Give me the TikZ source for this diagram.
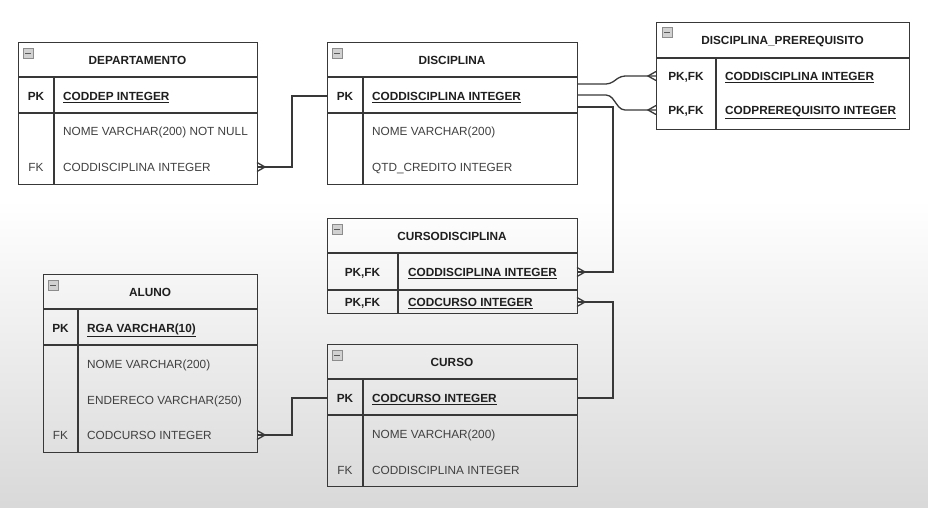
\documentclass[tikz,border=0pt]{standalone}
\usepackage{fontspec}
\setmainfont{Liberation Sans}
\usetikzlibrary{calc}
\tikzset{
  x=1pt, y=-1pt,
  tblbox/.style={draw=black!78, line width=1.3pt, inner sep=0pt, anchor=north west},
  tline/.style={draw=black!78, line width=1.3pt},
  txt/.style={inner sep=0pt, text height=8.4pt, text depth=0pt, font=\fontsize{11.8}{13}\selectfont},
  fld/.style={txt, anchor=west, text=black!75},
  pkf/.style={txt, anchor=west, text=black!88, font=\fontsize{11.8}{13}\selectfont\bfseries},
  keyb/.style={txt, anchor=center, text=black!88, font=\fontsize{11.8}{13}\selectfont\bfseries},
  keyn/.style={txt, anchor=center, text=black!75},
  ttl/.style={txt, anchor=center, text=black!88, font=\fontsize{11.8}{13}\selectfont\bfseries},
  icon/.style={draw=black!45, fill=black!18, line width=0.6pt, minimum size=10pt, inner sep=0pt, anchor=north west,
    path picture={\draw[black!65, line width=0.9pt] ([xshift=2pt]path picture bounding box.west) -- ([xshift=-2pt]path picture bounding box.east);}},
  conn/.style={draw=black!78, line width=1.3pt},
}
\newcommand\crowR[1]{\draw[conn] ($(#1)+(0,-4.5)$) -- ($(#1)+(8,0)$) -- ($(#1)+(0,4.5)$);}
\newcommand\crowL[1]{\draw[conn] ($(#1)+(0,-4.5)$) -- ($(#1)+(-8,0)$) -- ($(#1)+(0,4.5)$);}
\begin{document}
\begin{tikzpicture}
\useasboundingbox (0,0) rectangle (928,507);
\fill[white] (0,0) rectangle (928,201);
\shade[top color=white, bottom color=black!15] (0,200) rectangle (928,507);

% ---------------- DEPARTAMENTO
\node[tblbox, minimum width=239pt, minimum height=142pt] (dep) at (18,42) {};
\draw[tline] (18,77) -- (257,77);
\draw[tline] (18,113) -- (257,113);
\draw[tline] (54,77) -- (54,184);
\node[icon] (depic) at (23,48) {};
\node[ttl] (dept) at (137.5,60) {DEPARTAMENTO};
\node[keyb] (depk1) at (36,96) {PK};
\node[pkf] (depf1) at (63,96) {\underline{CODDEP INTEGER}};
\node[fld] (depf2) at (63,131) {NOME VARCHAR(200) NOT NULL};
\node[keyn] (depk3) at (36,167) {FK};
\node[fld] (depf3) at (63,167) {CODDISCIPLINA INTEGER};

% ---------------- DISCIPLINA
\node[tblbox, minimum width=250pt, minimum height=142pt] (disc) at (327,42) {};
\draw[tline] (327,77) -- (577,77);
\draw[tline] (327,113) -- (577,113);
\draw[tline] (363,77) -- (363,184);
\node[icon] (discic) at (332,48) {};
\node[ttl] (disct) at (452,60) {DISCIPLINA};
\node[keyb] (disck1) at (345,96) {PK};
\node[pkf] (discf1) at (372,96) {\underline{CODDISCIPLINA INTEGER}};
\node[fld] (discf2) at (372,131) {NOME VARCHAR(200)};
\node[fld] (discf3) at (372,167) {QTD\_CREDITO INTEGER};

% ---------------- DISCIPLINA_PREREQUISITO
\node[tblbox, minimum width=253pt, minimum height=107pt] (dpre) at (656,22) {};
\draw[tline] (656,58) -- (909,58);
\draw[tline] (716,58) -- (716,129);
\node[icon] (dpreic) at (662,27) {};
\node[ttl] (dpret) at (782.5,40) {DISCIPLINA\_PREREQUISITO};
\node[keyb] (dprek1) at (686,76) {PK,FK};
\node[pkf] (dpref1) at (725,76) {\underline{CODDISCIPLINA INTEGER}};
\node[keyb] (dprek2) at (686,110) {PK,FK};
\node[pkf] (dpref2) at (725,110) {\underline{CODPREREQUISITO INTEGER}};

% ---------------- CURSODISCIPLINA
\node[tblbox, minimum width=250pt, minimum height=95pt] (cd) at (327,218) {};
\draw[tline] (327,253) -- (577,253);
\draw[tline] (327,290) -- (577,290);
\draw[tline] (398,253) -- (398,313);
\node[icon] (cdic) at (332,224) {};
\node[ttl] (cdt) at (452,236) {CURSODISCIPLINA};
\node[keyb] (cdk1) at (362.5,272) {PK,FK};
\node[pkf] (cdf1) at (408,272) {\underline{CODDISCIPLINA INTEGER}};
\node[keyb] (cdk2) at (362.5,302) {PK,FK};
\node[pkf] (cdf2) at (408,302) {\underline{CODCURSO INTEGER}};

% ---------------- ALUNO
\node[tblbox, minimum width=214pt, minimum height=178pt] (alu) at (43,274) {};
\draw[tline] (43,309) -- (257,309);
\draw[tline] (43,345) -- (257,345);
\draw[tline] (78,309) -- (78,452);
\node[icon] (aluic) at (48,280) {};
\node[ttl] (alut) at (150,292) {ALUNO};
\node[keyb] (aluk1) at (60.5,328) {PK};
\node[pkf] (aluf1) at (87,328) {\underline{RGA VARCHAR(10)}};
\node[fld] (aluf2) at (87,364) {NOME VARCHAR(200)};
\node[fld] (aluf3) at (87,400) {ENDERECO VARCHAR(250)};
\node[keyn] (aluk4) at (60.5,435) {FK};
\node[fld] (aluf4) at (87,435) {CODCURSO INTEGER};

% ---------------- CURSO
\node[tblbox, minimum width=250pt, minimum height=142pt] (cur) at (327,344) {};
\draw[tline] (327,379) -- (577,379);
\draw[tline] (327,415) -- (577,415);
\draw[tline] (363,379) -- (363,486);
\node[icon] (curic) at (332,350) {};
\node[ttl] (curt) at (452,362) {CURSO};
\node[keyb] (curk1) at (345,398) {PK};
\node[pkf] (curf1) at (372,398) {\underline{CODCURSO INTEGER}};
\node[fld] (curf2) at (372,434) {NOME VARCHAR(200)};
\node[keyn] (curk3) at (345,470) {FK};
\node[fld] (curf3) at (372,470) {CODDISCIPLINA INTEGER};

% ---------------- connector end points
\coordinate (depfk) at (257,167);
\coordinate (discpkL) at (327,96);
\coordinate (discA) at (577,84);
\coordinate (discB) at (577,95);
\coordinate (discC) at (577,107);
\coordinate (dpreA) at (656,76);
\coordinate (dpreB) at (656,110);
\coordinate (cdA) at (577,272);
\coordinate (cdB) at (577,302);
\coordinate (alufk) at (257,435);
\coordinate (curpkL) at (327,398);
\coordinate (curpkR) at (577,398);

% ---------------- connectors
\draw[conn] (depfk) -- (292,167) -- (292,96) -- (discpkL);
\crowR{depfk}
\draw[conn, rounded corners=4pt] (discA) -- (610,84) -- (621,76) -- (dpreA);
\crowL{dpreA}
\draw[conn, rounded corners=4pt] (discB) -- (610,95) -- (621,110) -- (dpreB);
\crowL{dpreB}
\draw[conn] (discC) -- (613,107) -- (613,272) -- (cdA);
\crowR{cdA}
\draw[conn] (cdB) -- (613,302) -- (613,398) -- (curpkR);
\crowR{cdB}
\draw[conn] (alufk) -- (292,435) -- (292,398) -- (curpkL);
\crowR{alufk}
\end{tikzpicture}
\end{document}
